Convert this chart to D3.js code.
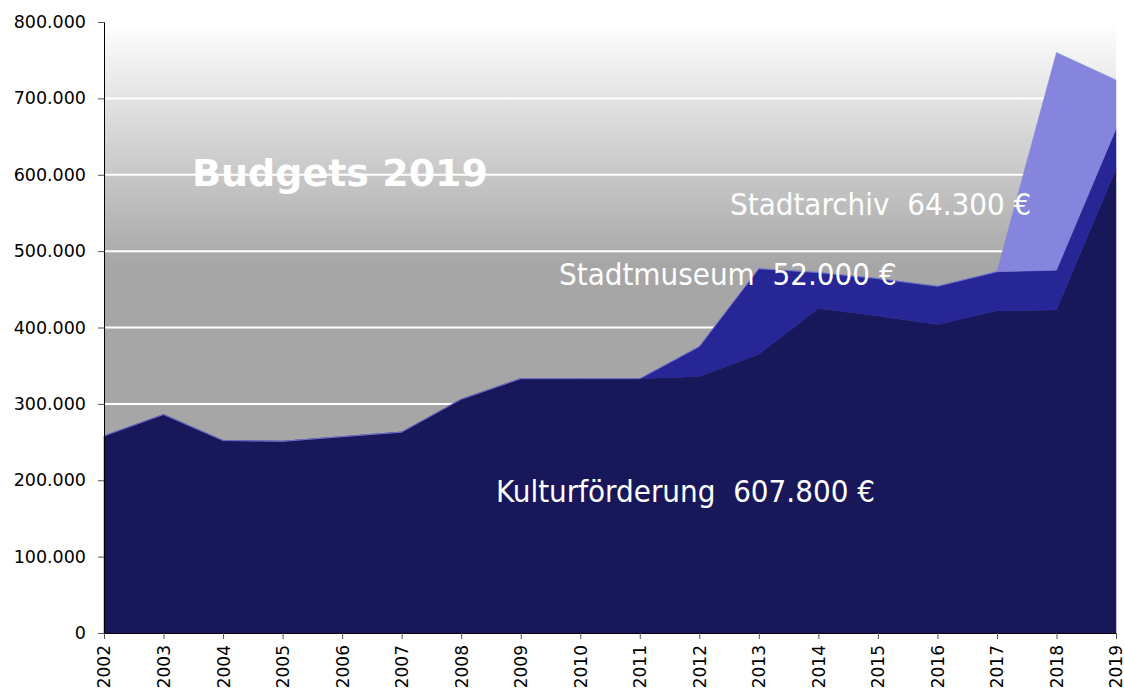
<!DOCTYPE html>
<html>
<head>
<meta charset="utf-8">
<script src="https://cdn.jsdelivr.net/npm/d3@7"></script>
<style>
  body { margin: 0; background: #fff; }
  text { font-family: "DejaVu Sans Condensed", "DejaVu Sans", sans-serif; }
</style>
</head>
<body>
<div id="chart"></div>
<script>
var years = [2002, 2003, 2004, 2005, 2006, 2007, 2008, 2009, 2010, 2011, 2012, 2013, 2014, 2015, 2016, 2017, 2018, 2019];
var kultur = [258000, 286000, 252000, 251000, 257000, 263000, 306000, 333000, 333000, 333000, 336000, 365000, 425000, 415000, 404000, 422000, 423000, 607800];
var museum = [0, 0, 0, 0, 0, 0, 0, 0, 0, 0, 39000, 112000, 47000, 49000, 50000, 51000, 52000, 52000];
var archiv = [0, 0, 0, 0, 0, 0, 0, 0, 0, 0, 0, 0, 0, 0, 0, 0, 285000, 64300];
var seriesNames = ["Kulturförderung", "Stadtmuseum", "Stadtarchiv"];
var yTicks = [0, 100000, 200000, 300000, 400000, 500000, 600000, 700000, 800000];

var width = 1124, height = 691;
var plotLeft = 104, plotRight = 1116, plotTop = 22, plotBottom = 633;

var svg = d3.select("#chart").append("svg")
  .attr("width", width)
  .attr("height", height);

// background gradient
var grad = svg.append("defs").append("linearGradient")
  .attr("id", "bg")
  .attr("x1", 0).attr("y1", 0).attr("x2", 0).attr("y2", 1);
grad.append("stop").attr("offset", "0%").attr("stop-color", "#ffffff");
grad.append("stop").attr("offset", "40%").attr("stop-color", "#a6a6a6");
grad.append("stop").attr("offset", "100%").attr("stop-color", "#a6a6a6");

svg.append("rect")
  .attr("x", plotLeft).attr("y", plotTop)
  .attr("width", plotRight - plotLeft).attr("height", plotBottom - plotTop)
  .attr("fill", "url(#bg)");

var x = d3.scaleLinear().domain([2002, 2019]).range([plotLeft, plotRight]);
var y = d3.scaleLinear().domain([0, 800000]).range([plotBottom, plotTop]);

// gridlines
svg.append("g")
  .selectAll("line")
  .data(yTicks.filter(function(d) { return d > 0; }))
  .enter().append("line")
  .attr("x1", plotLeft).attr("x2", plotRight)
  .attr("y1", function(d) { return y(d); })
  .attr("y2", function(d) { return y(d); })
  .attr("stroke", "#ffffff")
  .attr("stroke-width", 2);

// stacked data
var table = years.map(function(yr, i) {
  return { year: yr, "Kulturförderung": kultur[i], "Stadtmuseum": museum[i], "Stadtarchiv": archiv[i] };
});
var stack = d3.stack().keys(seriesNames)(table);
var colors = ["#18175a", "#262696", "#8585dd"];

var area = d3.area()
  .x(function(d) { return x(d.data.year); })
  .y0(function(d) { return y(d[0]); })
  .y1(function(d) { return y(d[1]); });

svg.append("g")
  .selectAll("path")
  .data(stack)
  .enter().append("path")
  .attr("d", area)
  .attr("fill", function(d, i) { return colors[i]; })
  .attr("stroke", function(d, i) { return colors[i]; })
  .attr("stroke-width", 0.5);

// axes
var tickFont = "'DejaVu Sans', sans-serif";
var yAxis = d3.axisLeft(y)
  .tickValues(yTicks)
  .tickSize(6)
  .tickFormat(function(d) { return d === 0 ? "0" : d3.format(",")(d).replace(/,/g, "."); });

var gy = svg.append("g")
  .attr("transform", "translate(" + plotLeft + ",0)")
  .call(yAxis);
gy.selectAll("text").attr("font-size", 17.5).attr("fill", "#000").attr("x", -18)
  .style("font-family", tickFont);
gy.select(".domain").attr("stroke", "#000");
gy.selectAll(".tick line").attr("stroke", "#555");

var xAxis = d3.axisBottom(x)
  .tickValues(years)
  .tickSize(6)
  .tickFormat(d3.format("d"));

var gx = svg.append("g")
  .attr("transform", "translate(0," + plotBottom + ")")
  .call(xAxis);
gx.selectAll("text")
  .attr("font-size", 17)
  .attr("fill", "#000")
  .attr("transform", "rotate(-90)")
  .attr("text-anchor", "end")
  .attr("x", -12)
  .attr("y", 0)
  .attr("dy", "0.35em")
  .style("font-family", tickFont);
gx.select(".domain").attr("stroke", "#000");
gx.selectAll(".tick line").attr("stroke", "#555");

// title and labels
svg.append("text")
  .attr("x", 192).attr("y", 186)
  .attr("fill", "#ffffff")
  .attr("font-size", 38)
  .attr("font-weight", "bold")
  .style("font-family", "'DejaVu Sans', sans-serif")
  .text("Budgets 2019");

var labels = [
  { text: "Stadtarchiv\u00a0\u00a064.300 €", x: 730, y: 215 },
  { text: "Stadtmuseum\u00a0\u00a052.000 €", x: 559, y: 285 },
  { text: "Kulturförderung\u00a0\u00a0607.800 €", x: 496, y: 502 }
];
svg.append("g")
  .selectAll("text")
  .data(labels)
  .enter().append("text")
  .attr("x", function(d) { return d.x; })
  .attr("y", function(d) { return d.y; })
  .attr("fill", "#ffffff")
  .attr("font-size", 31)
  .text(function(d) { return d.text; });
</script>
</body>
</html>
